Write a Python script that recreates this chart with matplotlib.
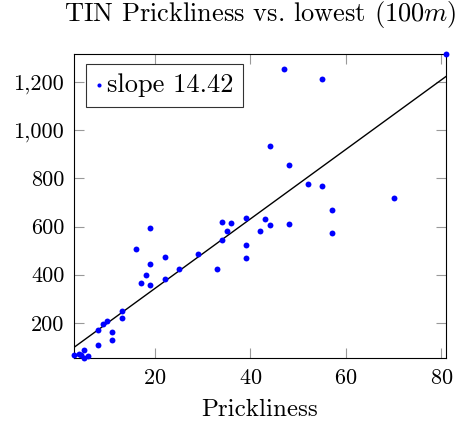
import numpy as np
import matplotlib
matplotlib.use("Agg")
import matplotlib.pyplot as plt
from matplotlib.ticker import FuncFormatter

# Datos
prickliness = [3, 4, 4.5, 5, 5, 6, 8, 9, 10, 11, 11, 8, 13, 13,
               16, 17, 18, 19, 19, 19, 22, 22, 25, 29, 33, 34, 34, 35,
               36, 39, 39, 39, 42, 43, 44, 44, 47, 48, 48, 52, 55, 55,
               57, 57, 70, 81]
lowest = [65, 71, 66, 88, 53, 64, 171, 194, 207, 162, 130, 107, 251, 220,
          507, 367, 398, 593, 445, 356, 474, 381, 423, 485, 425, 620, 544, 582,
          613, 634, 524, 470, 583, 631, 607, 933, 1254, 856, 610, 777, 1212, 770,
          670, 572, 719, 1315]
slope = 14.42
intercept = 55.0

x_ticks = [20, 40, 60, 80]
y_ticks = [200, 400, 600, 800, 1000, 1200]

plt.rcParams["font.family"] = "cmr10"
plt.rcParams["mathtext.fontset"] = "cm"
plt.rcParams["axes.formatter.use_mathtext"] = True

fig = plt.figure(figsize=(4.59, 4.28), dpi=100)
ax = fig.add_axes([0.1612, 0.1629, 0.8105, 0.7102])

x = np.array(prickliness, dtype=float)
y = np.array(lowest, dtype=float)

ax.scatter(x, y, s=18, color="#0000ff", zorder=3, label=f"slope {slope:.2f}",
           linewidths=0, clip_on=False)
xs = np.array([x.min(), x.max()])
ax.plot(xs, slope * xs + intercept, color="black", lw=1.0, zorder=2)

ax.set_xlim(x.min(), x.max())
ax.set_ylim(y.min(), y.max())
ax.set_xticks(x_ticks)
ax.set_yticks(y_ticks)
ax.yaxis.set_major_formatter(FuncFormatter(lambda v, p: f"{v:,.0f}"))

ax.tick_params(direction="in", length=7.3, width=0.8, color="#999999",
               top=True, right=True, labelsize=16, pad=7)
for sp in ax.spines.values():
    sp.set_linewidth(0.8)
    sp.set_color("black")

ax.set_title(r"TIN Prickliness vs. lowest $(100m)$", fontsize=19, pad=24)
ax.set_xlabel("Prickliness", fontsize=18, labelpad=8)

leg = ax.legend(loc="upper left", bbox_to_anchor=(0.032, 0.967),
                borderaxespad=0, fontsize=19, frameon=True, fancybox=False,
                edgecolor="black", handlelength=0.3, handletextpad=0.15,
                borderpad=0.35, markerscale=0.7, scatterpoints=1)
leg.get_frame().set_linewidth(0.8)

plt.savefig("out.png", dpi=100)
plt.close()
